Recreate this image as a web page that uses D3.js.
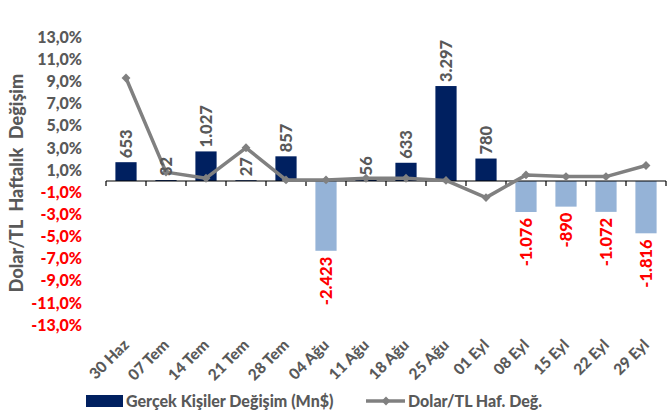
<!DOCTYPE html>
<html>
<head>
<meta charset="utf-8">
<script src="https://cdn.jsdelivr.net/npm/d3@7"></script>
<style>
  body{margin:0;background:#fff;}
  svg{display:block;font-family:Lato,"Open Sans",sans-serif;font-weight:900;}
</style>
</head>
<body>
<svg id="chart" width="668" height="417"></svg>
<script>
// haftalar
var categories = ["30 Haz","07 Tem","14 Tem","21 Tem","28 Tem","04 Ağu","11 Ağu","18 Ağu","25 Ağu","01 Eyl","08 Eyl","15 Eyl","22 Eyl","29 Eyl"];
// gercek kisiler degisim (Mn$)
var flows = [653,32,1027,27,857,-2423,56,633,3297,780,-1076,-890,-1072,-1816];
// dolar/TL haftalik degisim (%)
var usdtry = [9.3,0.8,0.25,3.0,0.1,0.1,0.25,0.25,0.05,-1.5,0.55,0.4,0.4,1.4];
var yTicks = [13,11,9,7,5,3,1,-1,-3,-5,-7,-9,-11,-13];

var svg = d3.select("#chart");
var gray = "#595959", red = "#ff0000";

var x = d3.scaleBand().domain(categories).range([106,666]).paddingInner(0.47).paddingOuter(0.235);
var y = d3.scaleLinear().domain([-13,13]).range([325,37]);
var yBar = d3.scaleLinear().domain([-5000,5000]).range([325,37]);
var cx = function(d){ return x(d) + x.bandwidth()/2; };

function fmt(v){ return d3.format(",")(v).replace(/,/g,".").replace("−","-"); }
function pct(v){ return d3.format(".1f")(v).replace(".",",").replace("−","-") + "%"; }

// sol eksen etiketleri
svg.append("g").selectAll("text").data(yTicks).enter().append("text")
    .attr("x",82).attr("y",function(d){ return y(d); })
    .attr("dy","0.36em").attr("text-anchor","end")
    .attr("font-size",16)
    .attr("fill",function(d){ return d<0 ? red : gray; })
    .text(pct);

// eksen basligi
svg.append("text")
    .attr("transform","translate(23,183) rotate(-90)")
    .attr("text-anchor","middle").attr("font-size",18).attr("fill",gray)
    .attr("xml:space","preserve")
    .text("Dolar/TL  Haftalık  Değişim");

// barlar
svg.append("g").selectAll("rect").data(flows).enter().append("rect")
    .attr("x",function(d,i){ return x(categories[i]); })
    .attr("width",x.bandwidth())
    .attr("y",function(d){ return yBar(Math.max(d,0)); })
    .attr("height",function(d){ return Math.abs(yBar(d)-yBar(0)); })
    .attr("fill",function(d){ return d<0 ? "#95b3d7" : "#002060"; });

// kategori ekseni
var axisY = y(0);
var axis = svg.append("g");
axis.append("line").attr("x1",106).attr("x2",666).attr("y1",axisY).attr("y2",axisY)
    .attr("stroke","#000").attr("stroke-width",1.2);
var edges = categories.map(function(c){ return x(c) - x.step()*x.paddingOuter(); });
edges.push(666);
axis.selectAll("line.tk").data(edges).enter().append("line").attr("class","tk")
    .attr("x1",function(d){ return d; }).attr("x2",function(d){ return d; })
    .attr("y1",axisY).attr("y2",axisY+5)
    .attr("stroke","#000").attr("stroke-width",1.2);

// cizgi
var line = d3.line().x(function(d,i){ return cx(categories[i]); }).y(function(d){ return y(d); });
svg.append("path").datum(usdtry).attr("d",line)
    .attr("fill","none").attr("stroke","#808080").attr("stroke-width",3.5).attr("stroke-linejoin","round");
svg.append("g").selectAll("path").data(usdtry).enter().append("path")
    .attr("d",d3.symbol(d3.symbolDiamond2,50))
    .attr("transform",function(d,i){ return "translate("+cx(categories[i])+","+y(d)+")"; })
    .attr("fill","#808080");

// bar etiketleri
svg.append("g").selectAll("text").data(flows).enter().append("text")
    .attr("transform",function(d,i){
        var py = d<0 ? yBar(d)+6 : yBar(d)-4;
        return "translate("+(cx(categories[i])+6)+","+py+") rotate(-90)";
    })
    .attr("text-anchor",function(d){ return d<0 ? "end" : "start"; })
    .attr("font-size",16.5)
    .attr("fill",function(d){ return d<0 ? red : gray; })
    .text(fmt);

// x etiketleri
svg.append("g").selectAll("text").data(categories).enter().append("text")
    .attr("transform",function(d){ return "translate("+(cx(d)+4)+",346) rotate(-45)"; })
    .attr("text-anchor","end").attr("font-size",15.5).attr("fill",gray)
    .text(function(d){ return d; });

// lejant
var lg = svg.append("g");
lg.append("rect").attr("x",86).attr("y",395).attr("width",37).attr("height",12).attr("fill","#002060");
lg.append("text").attr("x",126).attr("y",401).attr("dy","0.36em").attr("font-size",16).attr("fill",gray)
    .text("Gerçek Kişiler Değişim (Mn$)");
lg.append("line").attr("x1",366).attr("x2",405).attr("y1",401).attr("y2",401)
    .attr("stroke","#808080").attr("stroke-width",3.5);
lg.append("path").attr("d",d3.symbol(d3.symbolDiamond2,50)).attr("transform","translate(386,401)").attr("fill","#808080");
lg.append("text").attr("x",408).attr("y",401).attr("dy","0.36em").attr("font-size",16).attr("fill",gray)
    .text("Dolar/TL Haf. Değ.");
</script>
</body>
</html>
